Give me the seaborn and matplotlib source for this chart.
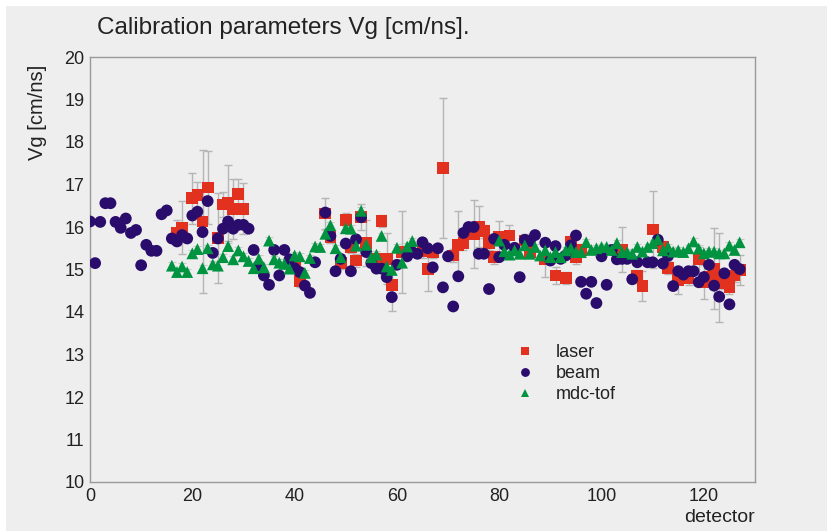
import numpy as np
import pandas as pd
import matplotlib
matplotlib.use("Agg")
import matplotlib.pyplot as plt
from matplotlib.patches import Rectangle
import seaborn as sns

# detector numbers and fitted Vg values [cm/ns]
laser_det = [17, 18, 20, 21, 22, 23, 25, 26, 27, 28, 29, 30, 40, 41, 46, 47, 49, 50, 51, 52,
             53, 54, 56, 57, 58, 59, 61, 65, 66, 67, 69, 71, 72, 73, 75, 76, 77, 78, 79, 80,
             82, 85, 86, 89, 91, 93, 94, 95, 96, 104, 107, 108, 110, 112, 113, 115, 117, 119,
             120, 121, 122, 123, 124, 125, 126, 127]
laser_vg = [15.87, 15.99, 16.68, 16.75, 16.13, 16.93, 15.74, 16.53, 16.56, 16.42, 16.78, 16.43,
            15.12, 14.73, 16.32, 15.77, 15.16, 16.17, 15.53, 15.21, 16.23, 15.62, 15.25, 16.14,
            15.25, 14.63, 15.41, 15.43, 15.02, 15.41, 17.38, 15.33, 15.57, 15.62, 15.83, 16.01,
            15.90, 15.62, 15.29, 15.76, 15.80, 15.68, 15.41, 15.25, 14.86, 14.80, 15.64, 15.29,
            15.45, 15.46, 14.84, 14.62, 15.94, 15.53, 15.04, 14.76, 14.79, 15.24, 14.70, 14.82,
            15.02, 14.82, 14.68, 14.58, 14.86, 14.98]
laser_err = [0.30, 0.63, 0.60, 0.30, 1.69, 0.86, 1.06, 0.30, 0.90, 0.70, 0.35, 0.60,
             0.15, 0.15, 0.37, 0.15, 0.15, 0.15, 0.15, 0.15, 0.30, 0.54, 0.15, 0.15,
             0.60, 0.60, 0.97, 0.15, 0.52, 0.15, 1.65, 0.15, 0.81, 0.15, 0.80, 0.49,
             0.15, 0.15, 0.15, 0.39, 0.25, 0.15, 0.15, 0.43, 0.20, 0.15, 0.15, 0.15,
             0.15, 0.53, 0.15, 0.35, 0.90, 0.15, 0.15, 0.33, 0.15, 0.30, 0.40, 0.15,
             0.95, 1.05, 0.15, 0.15, 0.15, 0.35]

beam_det = [0, 1, 2, 3, 4, 5, 6, 7, 8, 9, 10, 11, 12, 13, 14, 15, 16, 17, 18, 19, 20, 21, 22,
            23, 24, 25, 26, 27, 28, 29, 30, 31, 32, 33, 34, 35, 36, 37, 38, 39, 40, 41, 42, 43,
            44, 46, 47, 48, 49, 50, 51, 52, 53, 54, 55, 56, 57, 58, 59, 60, 62, 63, 64, 65, 66,
            67, 68, 69, 70, 71, 72, 73, 74, 75, 76, 77, 78, 79, 80, 81, 83, 84, 85, 86, 87, 89,
            90, 91, 92, 93, 94, 95, 96, 97, 98, 99, 100, 101, 102, 103, 104, 105, 106, 107, 109,
            110, 111, 112, 113, 114, 115, 116, 117, 118, 119, 120, 121, 122, 123, 124, 125, 126,
            127]
beam_vg = [16.13, 15.15, 16.12, 16.56, 16.56, 16.12, 15.98, 16.20, 15.86, 15.93, 15.10, 15.58,
           15.44, 15.44, 16.30, 16.39, 15.73, 15.66, 15.81, 15.73, 16.27, 16.36, 15.88, 16.61,
           15.39, 15.73, 15.96, 16.13, 15.96, 16.05, 16.05, 15.96, 15.46, 15.09, 14.86, 14.64,
           15.46, 14.86, 15.46, 15.24, 15.03, 14.94, 14.62, 14.45, 15.17, 16.34, 15.79, 14.96,
           15.25, 15.61, 14.96, 15.71, 16.23, 15.41, 15.15, 15.02, 15.02, 14.82, 14.35, 15.11,
           15.31, 15.41, 15.37, 15.64, 15.50, 15.05, 15.50, 14.58, 15.31, 14.13, 14.84, 15.86,
           16.00, 16.00, 15.37, 15.37, 14.54, 15.72, 15.29, 15.58, 15.51, 14.82, 15.70, 15.67,
           15.81, 15.63, 15.21, 15.55, 15.25, 15.33, 15.57, 15.80, 14.71, 14.43, 14.71, 14.21,
           15.31, 14.64, 15.46, 15.24, 15.25, 15.25, 14.77, 15.17, 15.17, 15.17, 15.70, 15.14,
           15.32, 14.61, 14.96, 14.88, 14.96, 14.96, 14.70, 14.82, 15.11, 14.62, 14.36, 14.91,
           14.18, 15.11, 15.01]

mdc_det = list(range(16, 64)) + list(range(80, 128))
mdc_vg = [15.09, 14.94, 15.07, 14.94, 15.38, 15.48, 15.03, 15.50, 15.12, 15.09, 15.29, 15.55,
          15.24, 15.45, 15.31, 15.20, 15.03, 15.25, 15.05, 15.68, 15.24, 15.16, 15.13, 15.02,
          15.33, 15.31, 14.92, 15.27, 15.54, 15.53, 15.84, 16.04, 15.50, 15.29, 15.97, 15.96,
          15.56, 16.38, 15.58, 15.29, 15.35, 15.79, 15.07, 14.99, 15.51, 15.16, 15.54, 15.67,
          15.68, 15.43, 15.35, 15.45, 15.37, 15.57, 15.37, 15.53, 15.33, 15.45, 15.29, 15.41,
          15.29, 15.45, 15.50, 15.41, 15.41, 15.64, 15.46, 15.50, 15.53, 15.53, 15.46, 15.62,
          15.41, 15.41, 15.37, 15.53, 15.42, 15.53, 15.62, 15.71, 15.45, 15.53, 15.42, 15.45,
          15.41, 15.50, 15.66, 15.49, 15.38, 15.42, 15.42, 15.38, 15.38, 15.56, 15.46, 15.64]
mdc_err = 0.08

colors = {"laser": "#e2321f", "beam": "#2a0c6c", "mdc-tof": "#009440"}
markers = {"laser": "s", "beam": "o", "mdc-tof": "^"}
bg = "#eeeeee"

df = pd.concat([
    pd.DataFrame({"detector": laser_det, "vg": laser_vg, "source": "laser"}),
    pd.DataFrame({"detector": beam_det, "vg": beam_vg, "source": "beam"}),
    pd.DataFrame({"detector": mdc_det, "vg": mdc_vg, "source": "mdc-tof"}),
], ignore_index=True)

sns.set_style("white")
plt.rcParams["font.family"] = ["Liberation Sans", "DejaVu Sans"]

fig = plt.figure(figsize=(8.27, 5.31), dpi=100, facecolor="white")
fig.patches.append(Rectangle((6 / 827, 0), 1, 1 - 6 / 531, transform=fig.transFigure,
                             facecolor=bg, edgecolor="none", zorder=-10))
ax = fig.add_axes([90 / 827, 49 / 531, 665 / 827, 425 / 531])
ax.set_facecolor(bg)

# error bars first, markers on top
ax.errorbar(laser_det, laser_vg, yerr=laser_err, fmt="none", ecolor="#b5b5b5",
            elinewidth=1, capsize=3, capthick=1, zorder=1)
ax.errorbar(mdc_det, mdc_vg, yerr=mdc_err, fmt="none", ecolor="#c8c8c8",
            elinewidth=0.8, capsize=3, capthick=0.8, zorder=1)

sns.scatterplot(data=df, x="detector", y="vg", hue="source", style="source",
                palette=colors, markers=markers, s=72, linewidth=0, ax=ax, zorder=3)

ax.set_xlim(0, 130)
ax.set_ylim(10, 20)
ax.set_xticks(range(0, 121, 20))
ax.set_xticks(range(0, 130, 5), minor=True)
ax.set_yticks(range(10, 21))
ax.set_yticks(np.arange(10, 20.01, 0.2), minor=True)
ax.tick_params(axis="both", which="both", direction="in", colors="#999999",
               labelcolor="#222222", labelsize=13, top=False, right=False)
ax.tick_params(axis="both", which="major", length=14, width=1)
ax.tick_params(axis="both", which="minor", length=7, width=1)
ax.tick_params(axis="x", pad=4)
ax.tick_params(axis="y", pad=4)
for sp in ax.spines.values():
    sp.set_color("#999999")
    sp.set_linewidth(1)

ax.set_xlabel("detector", loc="right", fontsize=14, color="#222222", labelpad=3)
ax.set_ylabel("Vg [cm/ns]", loc="top", fontsize=14.5, color="#222222")
ax.yaxis.set_label_coords(-43 / 665, 1 - 8 / 425)

leg = ax.legend(loc="upper left", bbox_to_anchor=(500 / 827, 1 - 328 / 531),
                bbox_transform=fig.transFigure, frameon=False, fontsize=13,
                handlelength=1.0, handletextpad=1.2, labelspacing=0.22, markerscale=0.75)
for t in leg.get_texts():
    t.set_color("#222222")

fig.text(97 / 827, 1 - 28 / 531, "Calibration parameters Vg [cm/ns].", fontsize=17.5,
         color="#222222", va="center", ha="left")

fig.savefig("out.png", dpi=100, facecolor="white")
